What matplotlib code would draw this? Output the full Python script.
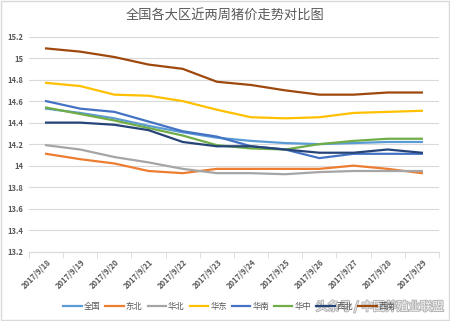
import numpy as np
import matplotlib.pyplot as plt
import matplotlib.patheffects as pe

plt.rcParams['font.family'] = ['Noto Sans CJK SC', 'DejaVu Sans']

dates = ["2017/9/18", "2017/9/19", "2017/9/20", "2017/9/21", "2017/9/22", "2017/9/23",
         "2017/9/24", "2017/9/25", "2017/9/26", "2017/9/27", "2017/9/28", "2017/9/29"]

quanguo = [14.53, 14.49, 14.44, 14.37, 14.31, 14.26, 14.23, 14.21, 14.20, 14.21, 14.22, 14.22]
dongbei = [14.11, 14.06, 14.02, 13.95, 13.93, 13.97, 13.97, 13.97, 13.97, 14.00, 13.97, 13.93]
huabei = [14.19, 14.15, 14.08, 14.03, 13.97, 13.93, 13.93, 13.92, 13.94, 13.95, 13.95, 13.95]
huadong = [14.77, 14.74, 14.66, 14.65, 14.60, 14.52, 14.45, 14.44, 14.45, 14.49, 14.50, 14.51]
huanan = [14.60, 14.53, 14.50, 14.41, 14.32, 14.27, 14.18, 14.15, 14.07, 14.11, 14.11, 14.11]
huazhong = [14.54, 14.48, 14.42, 14.35, 14.28, 14.19, 14.16, 14.15, 14.20, 14.23, 14.25, 14.25]
xibei = [14.40, 14.40, 14.38, 14.33, 14.22, 14.18, 14.18, 14.15, 14.12, 14.12, 14.15, 14.12]
xinan = [15.09, 15.06, 15.01, 14.94, 14.90, 14.78, 14.75, 14.70, 14.66, 14.66, 14.68, 14.68]

names = ["全国", "东北", "华北", "华东", "华南", "华中", "西北", "西南"]
series = [quanguo, dongbei, huabei, huadong, huanan, huazhong, xibei, xinan]
colors = ["#5B9BD5", "#ED7D31", "#A5A5A5", "#FFC000", "#4472C4", "#70AD47", "#264478", "#9E480E"]

fig = plt.figure(figsize=(4.5, 3.21), dpi=100)
fig.patches.append(plt.Rectangle((0.002, 0.003), 0.996, 0.994, transform=fig.transFigure,
                                 fill=False, edgecolor='#D9D9D9', linewidth=1))
ax = fig.add_axes([0.0644, 0.216, 0.911, 0.67])

x = np.arange(len(dates))
for name, vals, c in zip(names, series, colors):
    ax.plot(x, vals, color=c, linewidth=1.6, label=name)

ax.set_xlim(-0.5, len(dates) - 0.5)
ax.set_ylim(13.2, 15.2)
ax.set_yticks(np.arange(13.2, 15.21, 0.2))
ax.set_yticklabels(["13.2", "13.4", "13.6", "13.8", "14", "14.2", "14.4", "14.6", "14.8", "15", "15.2"])
ax.grid(axis='y', color='#D9D9D9', linewidth=0.8)
ax.set_axisbelow(True)

ax.set_xticks(x)
ax.set_xticklabels(dates, rotation=45, ha='right', rotation_mode='anchor')
ax.set_xticks(np.arange(-0.5, len(dates), 1), minor=True)
ax.tick_params(axis='x', which='major', length=0, labelsize=5.5, colors='#595959', pad=4)
ax.tick_params(axis='x', which='minor', length=4, color='#D9D9D9')
ax.tick_params(axis='y', length=0, labelsize=5.5, colors='#595959', pad=4)
for lab in ax.get_xticklabels():
    lab.set_fontweight('bold')
for lab in ax.get_yticklabels():
    lab.set_fontweight('bold')

for s in ['top', 'right', 'left']:
    ax.spines[s].set_visible(False)
ax.spines['bottom'].set_color('#D9D9D9')

fig.text(0.5, 0.95, "全国各大区近两周猪价走势对比图", ha='center', va='center',
         fontsize=9.5, color='#595959')

fig.legend(loc='center', bbox_to_anchor=(0.51, 0.044), ncol=8, frameon=False,
           fontsize=6, handlelength=2.2, handletextpad=0.25, columnspacing=0.6,
           labelcolor='#595959', borderpad=0.2)

fig.text(0.985, 0.044, "头条号 / 中国养殖业联盟", ha='right', va='center', fontsize=8.5,
         color='white', alpha=0.85,
         path_effects=[pe.withStroke(linewidth=1.5, foreground='#AAAAAA')])

fig.savefig('out.png', dpi=100)
